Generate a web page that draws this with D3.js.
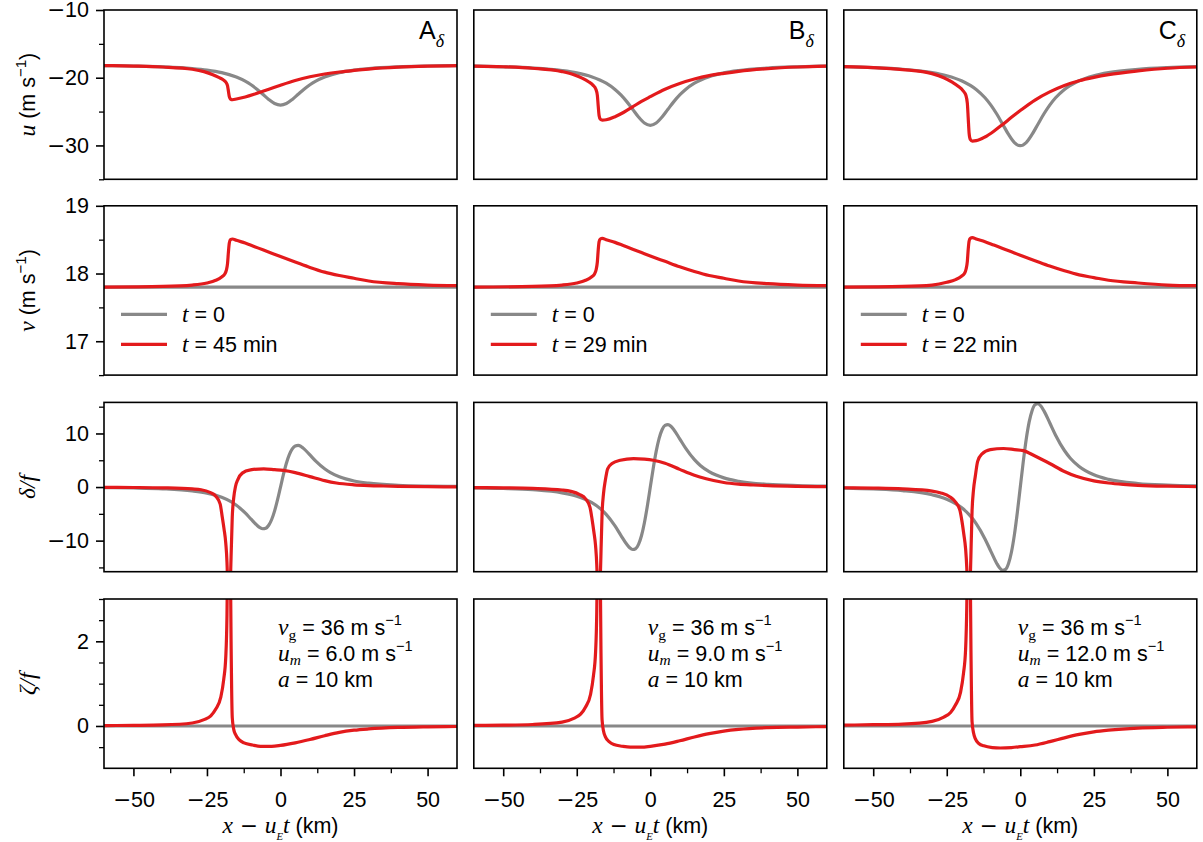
<!DOCTYPE html>
<html><head><meta charset="utf-8">
<script src="https://cdn.jsdelivr.net/npm/d3@7"></script>
<style>body{margin:0;background:#fff}</style></head>
<body><svg id="c" width="1203" height="842"></svg>
<script>
// ---------------- data ----------------
const xDomain = [-60, 60];
const xMajor = [-50, -25, 0, 25, 50];
const xMinor = [-37.5, -12.5, 12.5, 37.5];
const panelLetters = ["A", "B", "C"];
const legendTimes = ["45 min", "29 min", "22 min"];
const umLabels = ["6.0", "9.0", "12.0"];

const uDomain = [-35, -10], uMajor = [-10, -20, -30], uMinor = [-15, -25, -35];
const vDomain = [16.5, 19], vMajor = [17, 18, 19], vMinor = [16.5, 17.5, 18.5];
const dDomain = [-15.8, 15.8], dMajor = [-10, 0, 10], dMinor = [-15, -5, 5, 15];
const zDomain = [-1, 3], zMajor = [0, 2], zMinor = [-0.5, 0.5, 1, 1.5, 2.5, 3];

// t = 0 (grey)
const grayUx = [-60,-50,-40,-30,-25,-20,-15,-12,-10,-8,-6,-4,-2,0,2,4,6,8,10,12,15,20,25,30,40,50,60];
const grayU_A = [-18.20,-18.27,-18.39,-18.64,-18.87,-19.24,-19.89,-20.50,-21.04,-21.70,-22.45,-23.21,-23.81,-24.04,-23.81,-23.21,-22.45,-21.70,-21.04,-20.50,-19.89,-19.24,-18.87,-18.64,-18.39,-18.27,-18.20];
const grayU_B = [-18.28,-18.39,-18.57,-18.94,-19.28,-19.84,-20.81,-21.73,-22.54,-23.53,-24.66,-25.80,-26.69,-27.04,-26.69,-25.80,-24.66,-23.53,-22.54,-21.73,-20.81,-19.84,-19.28,-18.94,-18.57,-18.39,-18.28];
const grayU_C = [-18.36,-18.50,-18.75,-19.24,-19.70,-20.44,-21.73,-22.96,-24.04,-25.36,-26.86,-28.38,-29.58,-30.04,-29.58,-28.38,-26.86,-25.36,-24.04,-22.96,-21.73,-20.44,-19.70,-19.24,-18.75,-18.50,-18.36];
const grayVx = [-60, 60];
const grayV = [17.8, 17.8];
const grayDx = [-60,-50,-40,-30,-25,-20,-17,-15,-12,-10,-8,-7,-6,-5,-4,-3,-2,-1,0,1,2,3,4,5,6,7,8,10,12,15,17,20,25,30,40,50,60];
const grayD_A = [-0.11,-0.18,-0.33,-0.72,-1.14,-1.92,-2.69,-3.41,-4.84,-6.00,-7.13,-7.56,-7.78,-7.68,-7.13,-6.06,-4.44,-2.35,0,2.35,4.44,6.06,7.13,7.68,7.78,7.56,7.13,6.00,4.84,3.41,2.69,1.92,1.14,0.72,0.33,0.18,0.11];
const grayD_B = [-0.16,-0.27,-0.50,-1.08,-1.71,-2.88,-4.03,-5.11,-7.26,-9.00,-10.69,-11.34,-11.66,-11.52,-10.69,-9.09,-6.66,-3.53,0,3.53,6.66,9.09,10.69,11.52,11.66,11.34,10.69,9.00,7.26,5.11,4.03,2.88,1.71,1.08,0.50,0.27,0.16];
const grayD_C = [-0.21,-0.36,-0.66,-1.44,-2.28,-3.84,-5.38,-6.82,-9.68,-12.00,-14.26,-15.12,-15.55,-15.36,-14.26,-12.12,-8.88,-4.70,0,4.70,8.88,12.12,14.26,15.36,15.55,15.12,14.26,12.00,9.68,6.82,5.38,3.84,2.28,1.44,0.66,0.36,0.21];
const grayZx = [-60, 60];
const grayZ = [0, 0];

// t > 0 (red)
const redUx = [-60,-50,-40,-30,-26,-23,-21,-19.5,-18.5,-18,-17.7,-17.4,-17,-16.3,-15,-12,-9,-6,-3,0,5,10,15,20,25,30,40,50,60];
const redU_A = [-18.20,-18.28,-18.42,-18.75,-19.10,-19.55,-19.95,-20.30,-20.70,-21.20,-22.00,-22.80,-23.15,-23.25,-23.15,-22.85,-22.45,-22.00,-21.55,-21.10,-20.40,-19.85,-19.45,-19.15,-18.92,-18.72,-18.45,-18.30,-18.22];
const redU_B = [-18.28,-18.38,-18.60,-19.10,-19.55,-20.10,-20.60,-21.10,-21.70,-22.60,-24.20,-25.60,-26.10,-26.25,-26.20,-25.75,-25.10,-24.30,-23.50,-22.80,-21.70,-20.85,-20.20,-19.70,-19.35,-19.05,-18.65,-18.42,-18.30];
const redU_C = [-18.36,-18.50,-18.80,-19.40,-20.00,-20.70,-21.30,-21.90,-22.60,-23.80,-26.00,-28.20,-29.10,-29.35,-29.30,-28.75,-27.90,-26.90,-25.85,-24.85,-23.30,-22.10,-21.15,-20.45,-19.95,-19.55,-19.00,-18.60,-18.42];

const redVx = [-60,-40,-30,-25,-22,-20,-19,-18.4,-18,-17.7,-17.4,-17,-16.3,-15,-12,-9,-6,-3,0,5,10,15,20,25,30,40,50,60];
const redV_A = [17.80,17.81,17.83,17.86,17.90,17.95,17.99,18.05,18.15,18.32,18.45,18.50,18.51,18.49,18.45,18.40,18.35,18.30,18.25,18.17,18.09,18.02,17.97,17.93,17.89,17.85,17.83,17.82];
const redV_B = [17.80,17.81,17.83,17.86,17.90,17.95,17.99,18.06,18.17,18.35,18.47,18.51,18.52,18.50,18.46,18.41,18.36,18.31,18.26,18.18,18.10,18.03,17.97,17.93,17.89,17.85,17.83,17.82];
const redV_C = [17.80,17.81,17.83,17.87,17.91,17.96,18.00,18.07,18.18,18.36,18.48,18.52,18.53,18.51,18.47,18.42,18.37,18.32,18.27,18.19,18.11,18.04,17.98,17.94,17.90,17.86,17.83,17.82];

const redDx = [-60,-50,-40,-30,-27,-24,-22,-20.5,-19.8,-19.2,-18.6,-18.2,-17.9,-17.5,-17.1,-16.8,-16.4,-15.9,-15.3,-14.5,-13,-10.2,-5.7,-2,1,5,10,15,19,25,30,35,40,50,60];
const redD_A = [-0.05,-0.08,-0.15,-0.35,-0.5,-1.0,-1.7,-3.2,-5.6,-7.8,-10.5,-14,-20,-40,-20,-13,-5.6,-2.0,0.1,1.4,2.6,3.2,3.4,3.25,3.1,2.7,1.95,1.2,0.75,0.42,0.28,0.2,0.14,0.07,0.04];
const redD_B = [-0.1,-0.15,-0.25,-0.55,-0.8,-1.4,-2.2,-3.8,-6.0,-8.3,-11,-14.5,-20,-40,-20,-13,-5,-1.2,1.2,3.4,4.4,5.0,5.3,5.2,5.0,4.45,3.3,2.2,1.55,0.85,0.55,0.38,0.25,0.12,0.07];
const redD_C = [-0.13,-0.2,-0.35,-0.75,-1.1,-1.8,-2.8,-4.4,-6.5,-8.8,-11.5,-15,-20,-40,-20,-13,-4.5,-0.5,2.0,4.8,6.2,7.0,7.2,7.0,6.8,5.8,4.4,2.9,2.0,1.15,0.75,0.5,0.33,0.16,0.09];

const redZx = [-60,-50,-40,-30,-26,-23.7,-22,-20.3,-19.3,-18.6,-18.2,-17.9,-17.5,-17.1,-16.8,-16.4,-15.9,-15.3,-14,-12.4,-9.5,-6.8,-3,0,5,10,15,20,25,30,40,50,60];
const redZ_A = [0.01,0.015,0.025,0.07,0.15,0.24,0.4,0.68,1.1,1.64,2.6,4.5,8,4.5,2.0,0.2,-0.08,-0.2,-0.33,-0.4,-0.45,-0.48,-0.48,-0.46,-0.4,-0.32,-0.23,-0.15,-0.1,-0.07,-0.035,-0.02,-0.012];
const redZ_B = [0.015,0.02,0.035,0.09,0.18,0.28,0.45,0.75,1.2,1.75,2.7,4.5,8,4.5,2.0,0.15,-0.12,-0.25,-0.37,-0.44,-0.48,-0.5,-0.5,-0.48,-0.43,-0.35,-0.26,-0.18,-0.12,-0.08,-0.04,-0.025,-0.015];
const redZ_C = [0.02,0.03,0.045,0.11,0.21,0.32,0.5,0.8,1.25,1.8,2.8,4.5,8,4.5,2.0,0.1,-0.16,-0.3,-0.42,-0.47,-0.51,-0.52,-0.51,-0.49,-0.45,-0.37,-0.28,-0.2,-0.14,-0.1,-0.05,-0.03,-0.02];

// ---------------- layout ----------------
const GRAY = "#888888", RED = "#e31a1c";
const SANS = "'Liberation Sans', Arial, sans-serif";
const SERIF = "'Liberation Serif', 'Times New Roman', serif";
const MINUSFONT = "'DejaVu Sans', sans-serif";
const colX = [104, 473.8, 843.8], panelW = 353;
const rowY = [10, 205.8, 402.4, 599], panelH = 169.3;
const FS = 21.5, MS = 23.5;

const rows = [
  {dom: uDomain, maj: uMajor, min: uMinor,
   gray: [[grayUx, grayU_A], [grayUx, grayU_B], [grayUx, grayU_C]],
   red: [[redUx, redU_A], [redUx, redU_B], [redUx, redU_C]]},
  {dom: vDomain, maj: vMajor, min: vMinor,
   gray: [[grayVx, grayV], [grayVx, grayV], [grayVx, grayV]],
   red: [[redVx, redV_A], [redVx, redV_B], [redVx, redV_C]]},
  {dom: dDomain, maj: dMajor, min: dMinor,
   gray: [[grayDx, grayD_A], [grayDx, grayD_B], [grayDx, grayD_C]],
   red: [[redDx, redD_A], [redDx, redD_B], [redDx, redD_C]]},
  {dom: zDomain, maj: zMajor, min: zMinor,
   gray: [[grayZx, grayZ], [grayZx, grayZ], [grayZx, grayZ]],
   red: [[redZx, redZ_A], [redZx, redZ_B], [redZx, redZ_C]]}
];

const svg = d3.select("#c");
const defs = svg.append("defs");
defs.append("clipPath").attr("id", "clip").append("rect")
  .attr("x", 0).attr("y", 0).attr("width", panelW).attr("height", panelH);

// tick labels: wide minus sign like the reference
function styleTickText(sel) {
  sel.each(function(d) {
    const t = d3.select(this);
    t.text(null).attr("font-size", FS).attr("font-family", SANS);
    const s = d3.format("d")(Math.abs(d));
    if (d < 0) t.append("tspan").attr("font-family", MINUSFONT).text("\u2212");
    t.append("tspan").text(s);
  });
}

// rich text helper
function rich(parent, x, y, parts, size, anchor) {
  const t = parent.append("text").attr("x", x).attr("y", y)
    .attr("font-size", size).attr("font-family", SANS)
    .attr("text-anchor", anchor || "start").attr("fill", "#000");
  let shift = 0;
  parts.forEach(p => {
    const s = t.append("tspan").text(p.t);
    const target = p.sub ? size * (p.subShift || 0.28) : p.sup ? -size * 0.42 : 0;
    if (target - shift !== 0) s.attr("dy", target - shift);
    shift = target;
    if (p.sub || p.sup) s.attr("font-size", size * (p.scale || 0.7));
    if (p.it) s.attr("font-style", "italic");
    if (p.serif) s.attr("font-family", SERIF);
    if (p.minus) s.attr("font-family", MINUSFONT);
    if (p.fs) s.attr("font-size", p.fs);
  });
  return t;
}

const x = d3.scaleLinear().domain(xDomain).range([0, panelW]);

rows.forEach((row, r) => {
  const y = d3.scaleLinear().domain(row.dom).range([panelH, 0]);
  colX.forEach((cx, c) => {
    const g = svg.append("g").attr("transform", `translate(${cx},${rowY[r]})`);
    if (c === 0) {
      const ax = g.append("g").call(d3.axisLeft(y).tickValues(row.maj).tickSize(8).tickPadding(7));
      ax.select(".domain").remove();
      ax.selectAll("line").attr("stroke-width", 1.6);
      styleTickText(ax.selectAll("text"));
      const axm = g.append("g").call(d3.axisLeft(y).tickValues(row.min.filter(v => v >= row.dom[0] - 1e-9 && v <= row.dom[1] + 1e-9)).tickSize(5).tickFormat(""));
      axm.select(".domain").remove();
      axm.selectAll("line").attr("stroke-width", 1.3);
    }
    if (r === 3) {
      const ax = g.append("g").attr("transform", `translate(0,${panelH})`)
        .call(d3.axisBottom(x).tickValues(xMajor).tickSize(8).tickPadding(15));
      ax.select(".domain").remove();
      ax.selectAll("line").attr("stroke-width", 1.6);
      styleTickText(ax.selectAll("text"));
      const axm = g.append("g").attr("transform", `translate(0,${panelH})`)
        .call(d3.axisBottom(x).tickValues(xMinor).tickSize(5).tickFormat(""));
      axm.select(".domain").remove();
      axm.selectAll("line").attr("stroke-width", 1.3);
      rich(g, panelW / 2, panelH + 65, [
        {t: "x", it: true, serif: true, fs: MS},
        {t: " \u2212 ", minus: true},
        {t: "u", it: true, serif: true, fs: MS},
        {t: "E", it: true, serif: true, sub: true, scale: 0.5, subShift: 0.3},
        {t: "t", it: true, serif: true, fs: MS},
        {t: " (km)"}
      ], FS, "middle");
    }
    const line = d3.line().x(d => x(d[0])).y(d => y(d[1])).curve(d3.curveMonotoneX);
    const pl = g.append("g").attr("clip-path", "url(#clip)");
    const gs = row.gray[c], rs = row.red[c];
    pl.append("path").attr("d", line(gs[0].map((v, i) => [v, gs[1][i]])))
      .attr("fill", "none").attr("stroke", GRAY).attr("stroke-width", 3.2);
    pl.append("path").attr("d", line(rs[0].map((v, i) => [v, rs[1][i]])))
      .attr("fill", "none").attr("stroke", RED).attr("stroke-width", 3.2);
    g.append("rect").attr("width", panelW).attr("height", panelH)
      .attr("fill", "none").attr("stroke", "#000").attr("stroke-width", 1.6);

    if (r === 0) {
      rich(g, panelW - 38, 29, [
        {t: panelLetters[c]},
        {t: "\u03b4", it: true, serif: true, sub: true, scale: 0.72, subShift: 0.3}
      ], 25, "start");
    }
    if (r === 1) {
      const lg = g.append("g");
      [[GRAY, 108.5, [{t: "t", it: true, serif: true, fs: MS}, {t: " = 0"}]],
       [RED, 138.5, [{t: "t", it: true, serif: true, fs: MS}, {t: " = " + legendTimes[c]}]]]
        .forEach(([col, yy, parts]) => {
          lg.append("line").attr("x1", 17).attr("x2", 63).attr("y1", yy).attr("y2", yy)
            .attr("stroke", col).attr("stroke-width", 3.2);
          rich(lg, 78, yy + 8, parts, FS, "start");
        });
    }
    if (r === 3) {
      const ax0 = 174;
      rich(g, ax0, 35.5, [
        {t: "v", it: true, serif: true, fs: MS},
        {t: "g", serif: true, sub: true, scale: 0.72, subShift: 0.24},
        {t: " = 36 m s"},
        {t: "\u22121", sup: true, scale: 0.68}
      ], FS, "start");
      rich(g, ax0, 61.5, [
        {t: "u", it: true, serif: true, fs: MS},
        {t: "m", it: true, serif: true, sub: true, scale: 0.72, subShift: 0.22},
        {t: " = " + umLabels[c] + " m s"},
        {t: "\u22121", sup: true, scale: 0.68}
      ], FS, "start");
      rich(g, ax0, 87.5, [
        {t: "a", it: true, serif: true, fs: MS},
        {t: " = 10 km"}
      ], FS, "start");
    }
  });
});

// y labels
const yLabels = [
  [{t: "u", it: true, serif: true, fs: MS}, {t: " (m s"}, {t: "\u22121", sup: true}, {t: ")"}],
  [{t: "v", it: true, serif: true, fs: MS}, {t: " (m s"}, {t: "\u22121", sup: true}, {t: ")"}],
  [{t: "\u03b4/f", it: true, serif: true, fs: MS}],
  [{t: "\u03b6/f", it: true, serif: true, fs: MS}]
];
yLabels.forEach((parts, r) => {
  const cy = rowY[r] + panelH / 2;
  const g = svg.append("g").attr("transform", `translate(35,${cy}) rotate(-90)`);
  rich(g, 0, 0, parts, FS, "middle");
});
</script>
</body></html>
